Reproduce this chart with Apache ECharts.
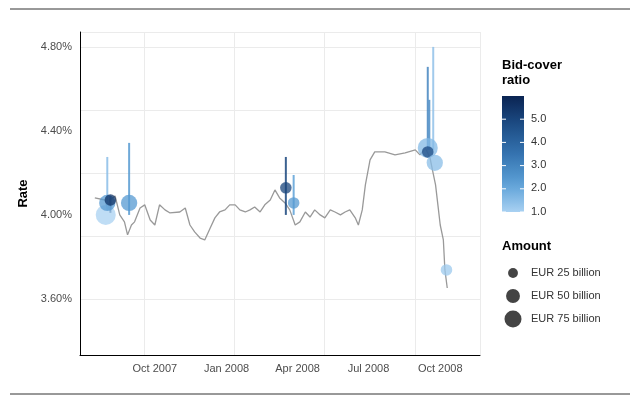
<!DOCTYPE html><html><head><meta charset="utf-8"><script src="https://cdn.jsdelivr.net/npm/echarts@6/dist/echarts.min.js"></script>
<style>html,body{margin:0;background:#fff}#c{width:640px;height:402px}</style></head><body><div id="c"></div><script>
const lineDates=['2007-07-16','2007-07-29','2007-08-02','2007-08-04','2007-08-11','2007-08-17','2007-08-23','2007-08-27','2007-09-01','2007-09-05','2007-09-12','2007-09-18','2007-09-25','2007-10-01','2007-10-07','2007-10-14','2007-10-20','2007-11-02','2007-11-09','2007-11-15','2007-11-21','2007-11-28','2007-12-04','2007-12-11','2007-12-17','2007-12-23','2007-12-30','2008-01-05','2008-01-12','2008-01-18','2008-01-25','2008-01-31','2008-02-06','2008-02-13','2008-02-19','2008-02-26','2008-03-03','2008-03-09','2008-03-16','2008-03-22','2008-03-29','2008-04-04','2008-04-11','2008-04-17','2008-04-23','2008-04-30','2008-05-06','2008-05-13','2008-05-19','2008-05-26','2008-06-01','2008-06-07','2008-06-14','2008-06-18','2008-06-23','2008-06-27','2008-07-03','2008-07-09','2008-07-22','2008-08-04','2008-08-17','2008-08-30','2008-09-05','2008-09-12','2008-09-18','2008-09-21','2008-09-25','2008-09-28','2008-10-01','2008-10-05','2008-10-07','2008-10-10'];
const lineRates=[4.081,4.071,4.024,4.071,4.090,4.000,3.967,3.905,3.952,3.967,4.033,4.048,3.976,3.952,4.048,4.024,4.010,4.014,4.033,3.952,3.919,3.890,3.881,3.938,3.986,4.014,4.024,4.048,4.048,4.024,4.014,4.024,4.038,4.014,4.048,4.071,4.119,4.081,4.057,4.024,3.952,3.967,4.014,3.990,4.024,4.000,3.986,4.024,4.014,4.000,4.014,4.024,3.986,3.952,4.024,4.143,4.262,4.300,4.300,4.286,4.295,4.310,4.286,4.319,4.271,4.214,4.143,4.048,3.952,3.881,3.738,3.652];
const auctionDates=['2007-07-30','2007-08-01','2007-08-05','2007-08-29','2008-03-17','2008-03-27','2008-09-15','2008-09-15','2008-09-24','2008-10-09'];
const auctionRates=[4.000,4.057,4.071,4.057,4.129,4.057,4.319,4.300,4.248,3.738];
const auctionRatio=[1.0,2.4,5.5,2.4,5.0,2.4,1.6,4.8,1.5,1.2];
const auctionAmount=[75,50,25,50,25,25,75,25,50,25];
const rangeDates=['2007-08-01','2007-08-05','2007-08-29','2008-03-17','2008-03-27','2008-09-15','2008-09-17','2008-09-22'];
const rangeLow=[4.024,4.010,4.000,4.000,4.000,4.310,4.310,4.310];
const rangeHigh=[4.276,4.090,4.343,4.276,4.190,4.705,4.548,4.800];
const rangeRatio=[1.5,5.5,2.4,5.0,2.2,3.0,2.8,1.4];
const xTickDates=['2007-10-01','2008-01-01','2008-04-01','2008-07-01','2008-10-01'];
const xTickLabels=['Oct 2007','Jan 2008','Apr 2008','Jul 2008','Oct 2008'];
const ratioTicks=['5.0','4.0','3.0','2.0','1.0'];
const amountLabels=['EUR 25 billion','EUR 50 billion','EUR 75 billion'];
const amountVals=[25,50,75];

const T=d=>Date.parse(d+'T00:00:00Z');
function colorOf(v){const t=Math.max(0,Math.min(1,(v-1)/5));const s=['#a9d1f2','#5a9fd6','#3573b0','#1d4d86','#0a2452'];const p=t*(s.length-1);const i=Math.min(s.length-2,Math.floor(p));const f=p-i;const h=c=>[1,3,5].map(k=>parseInt(c.substr(k,2),16));const a=h(s[i]),b=h(s[i+1]);return 'rgb('+a.map((x,k)=>Math.round(x+(b[k]-x)*f)).join(',')+')';}
function sz(a){return Math.sqrt(a/75)*20;}
const c=echarts.init(document.getElementById('c'));
const legendG=[];
legendG.push({type:'text',left:502,top:58,style:{text:'Bid-cover\nratio',font:'bold 13px "Liberation Sans", Arial',fill:'#000',lineHeight:15}});
const barStops=[];for(let i=0;i<=10;i++)barStops.push({offset:i/10,color:colorOf(6-5*i/10)});
legendG.push({type:'rect',shape:{x:502,y:96,width:22,height:116},style:{fill:{type:'linear',x:0,y:0,x2:0,y2:1,colorStops:barStops}}});
ratioTicks.forEach((t)=>{const y=96+116*(6-parseFloat(t))/5;legendG.push({type:'text',x:531,y:y-6,style:{text:t,font:'11px "Liberation Sans", Arial',fill:'#333'}});legendG.push({type:'line',shape:{x1:502,y1:y,x2:506,y2:y},style:{stroke:'#fff'}});legendG.push({type:'line',shape:{x1:520,y1:y,x2:524,y2:y},style:{stroke:'#fff'}});});
legendG.push({type:'text',left:502,top:240,style:{text:'Amount',font:'bold 13px "Liberation Sans", Arial',fill:'#000'}});
amountVals.forEach((a,i)=>{const y=273+i*23;legendG.push({type:'circle',shape:{cx:513,cy:y,r:sz(a)/2*0.85},style:{fill:'#444'}});legendG.push({type:'text',x:531,y:y-6,style:{text:amountLabels[i],font:'11px "Liberation Sans", Arial',fill:'#333'}});});
legendG.push({type:'line',shape:{x1:10,y1:9,x2:630,y2:9},style:{stroke:'#333',lineWidth:1}});
legendG.push({type:'line',shape:{x1:10,y1:394,x2:630,y2:394},style:{stroke:'#333',lineWidth:1}});
const tickVals=xTickDates.map(T);
c.setOption({
animation:false,
grid:{left:80,right:160,top:32,bottom:47},
xAxis:{type:'value',min:T('2007-06-27'),max:T('2008-11-21'),
 axisLine:{show:true,lineStyle:{color:'#000'}},axisTick:{show:false},
 splitLine:{show:true,lineStyle:{color:'#ebebeb'}},
 axisLabel:{color:'#4d4d4d',fontSize:11,fontFamily:'Liberation Sans',customValues:tickVals,formatter:v=>xTickLabels[tickVals.indexOf(v)]||''}},
yAxis:{type:'value',min:3.333,max:4.871,name:'Rate',nameLocation:'middle',nameGap:42,nameTextStyle:{fontWeight:'bold',fontSize:13,color:'#000'},
 axisLine:{show:true,lineStyle:{color:'#000'}},axisTick:{show:false},
 splitLine:{show:true,lineStyle:{color:'#ebebeb'}},
 axisLabel:{color:'#4d4d4d',fontSize:11,customValues:[3.6,4.0,4.4,4.8],formatter:v=>v.toFixed(2)+'%'}},
graphic:legendG,
series:[
{type:'line',data:lineDates.map((d,i)=>[T(d),lineRates[i]]),symbol:'none',lineStyle:{color:'#999',width:1.3},z:1},
{type:'custom',z:2,data:rangeDates.map((d,i)=>[T(d),rangeLow[i],rangeHigh[i],rangeRatio[i]]),
 renderItem:(p,api)=>{const a=api.coord([api.value(0),api.value(1)]),b=api.coord([api.value(0),api.value(2)]);return {type:'line',shape:{x1:a[0],y1:a[1],x2:b[0],y2:b[1]},style:{stroke:colorOf(api.value(3)),lineWidth:2,opacity:0.85}};}},
{type:'scatter',z:3,data:auctionDates.map((d,i)=>({value:[T(d),auctionRates[i]],symbolSize:sz(auctionAmount[i]),itemStyle:{color:colorOf(auctionRatio[i]),opacity:0.75}}))}
]});
</script></body></html>
